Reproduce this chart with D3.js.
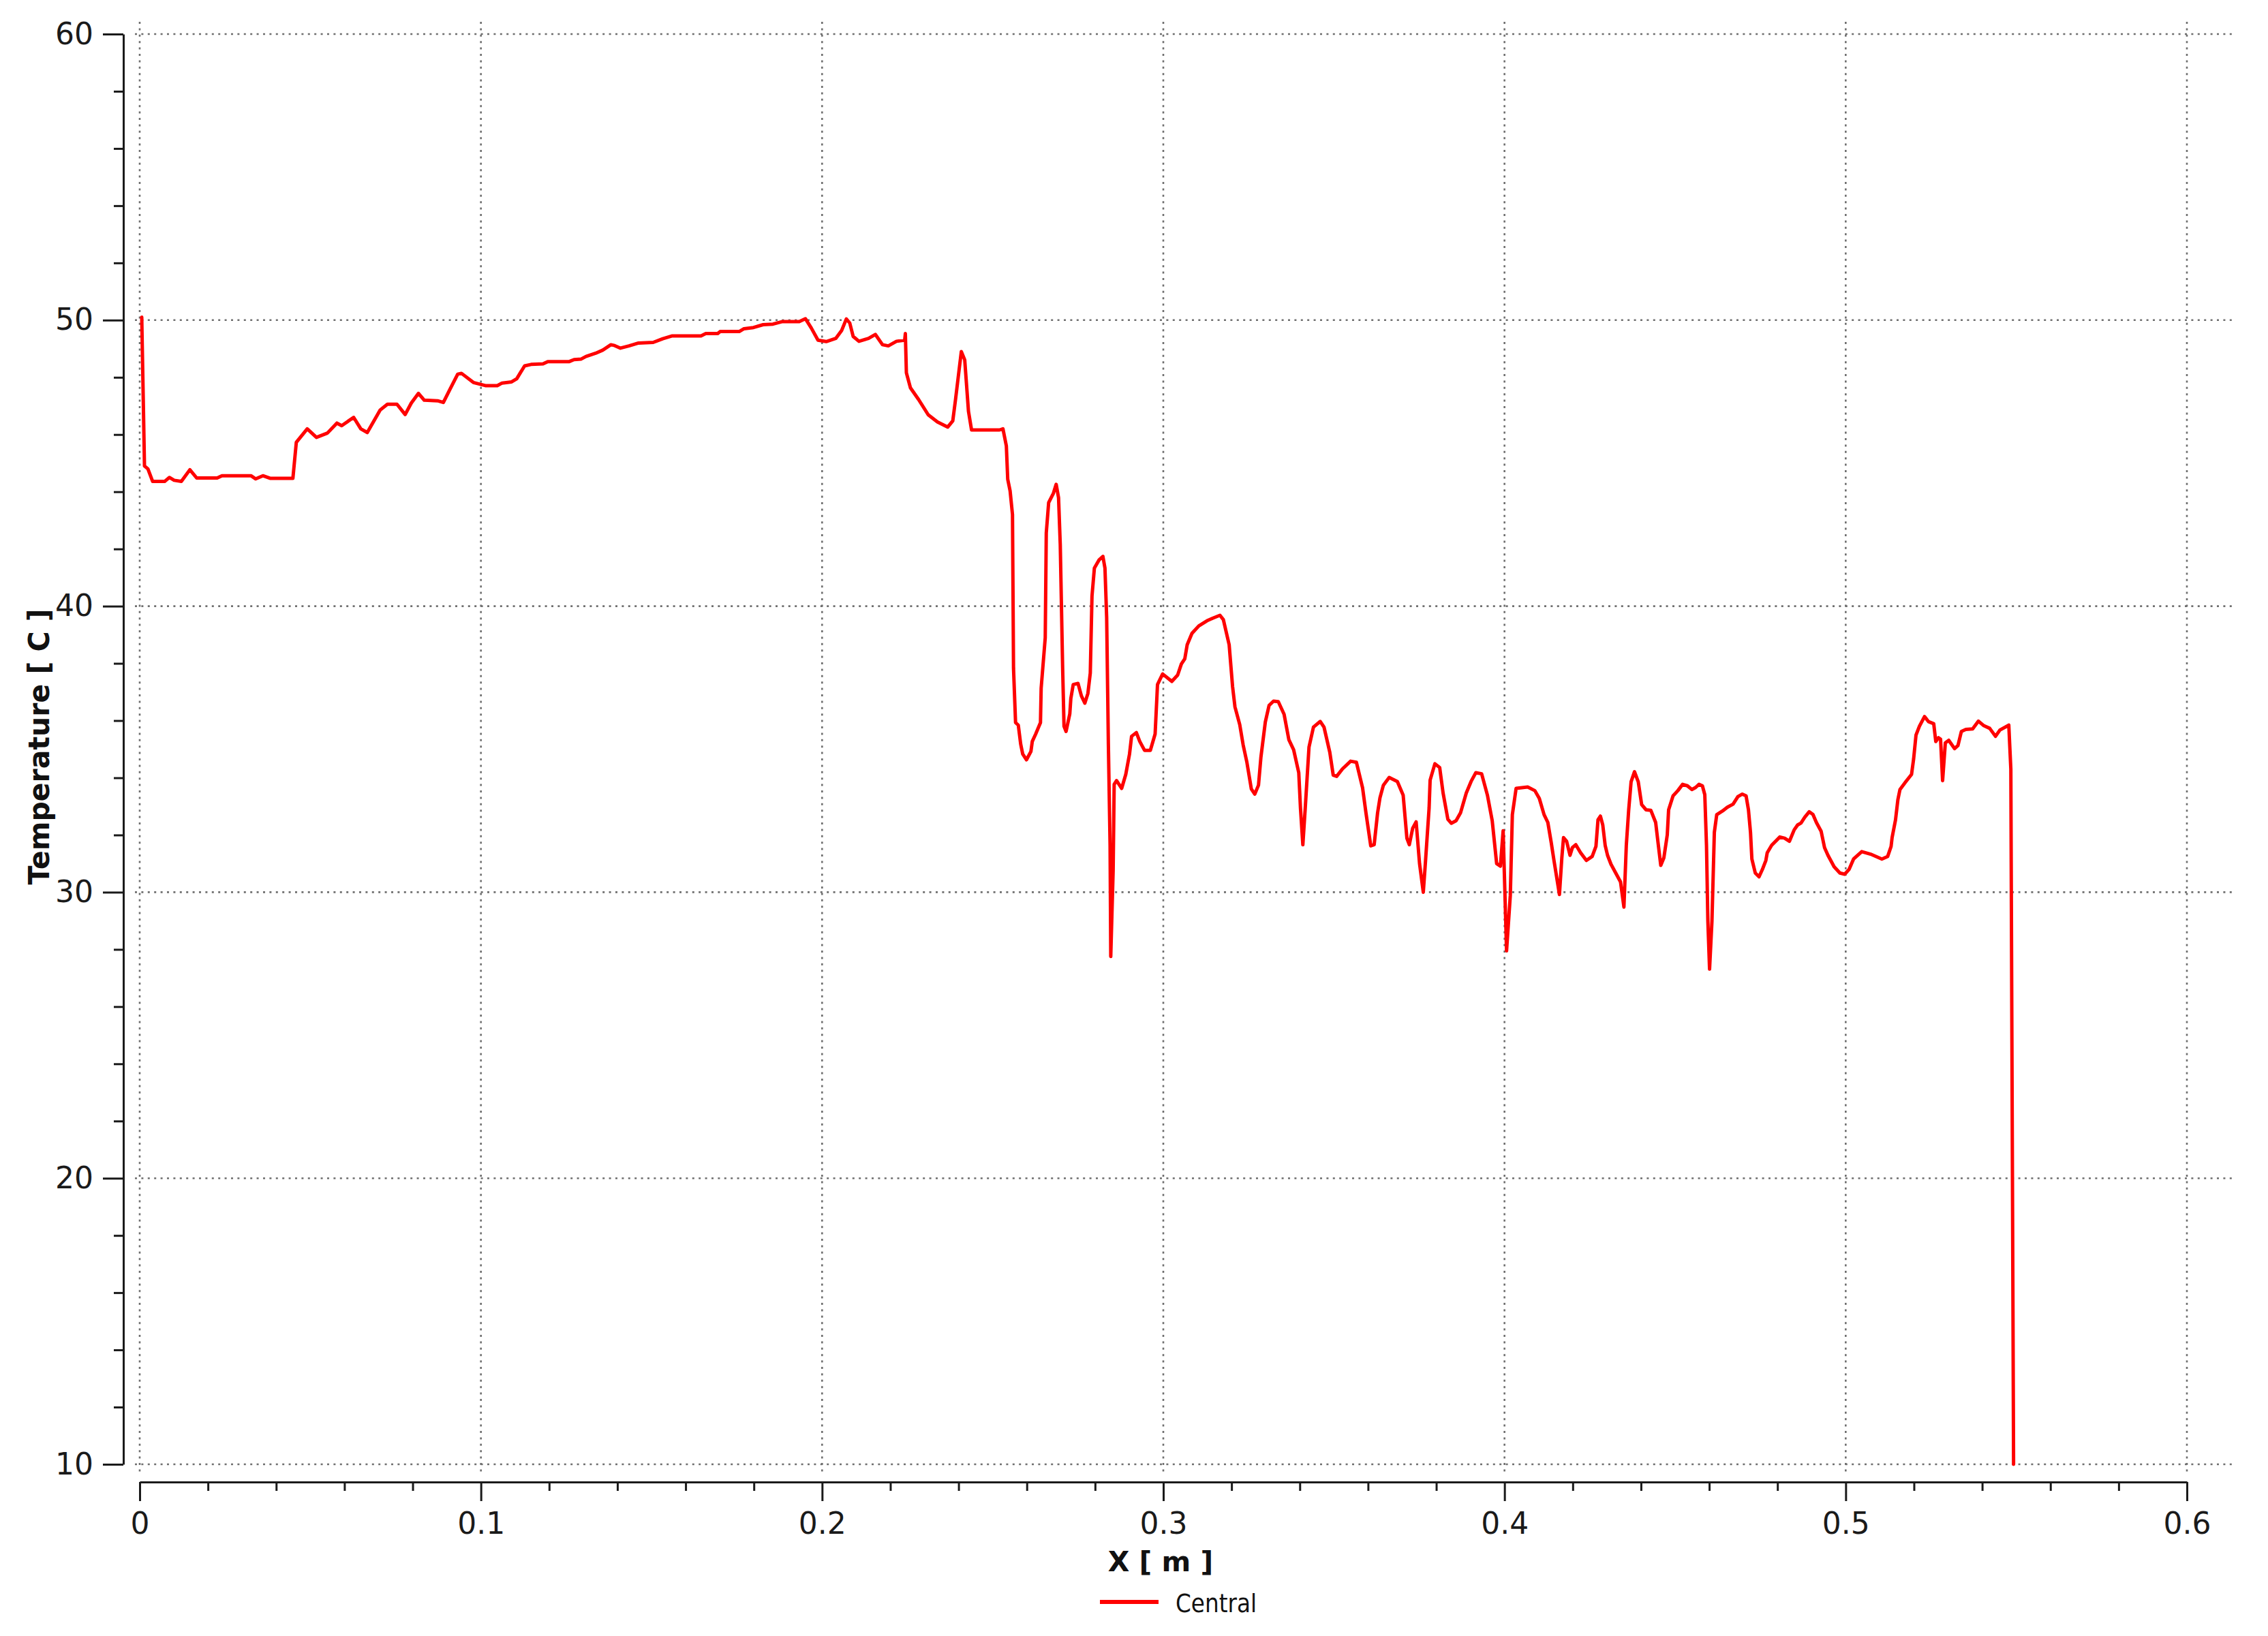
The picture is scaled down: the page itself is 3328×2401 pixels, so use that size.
<!DOCTYPE html>
<html>
<head>
<meta charset="utf-8">
<script src="https://cdnjs.cloudflare.com/ajax/libs/d3/7.8.5/d3.min.js"></script>
<style>
  body { margin: 0; background: #fff; }
  svg { display: block; }
  .tick text { font-family: "DejaVu Sans", Verdana, sans-serif; font-size: 44px; fill: #1a1a1a; }
</style>
</head>
<body>
<div id="chart"></div>
<script>
// position along the line [m]
var xValues = [
  0.0006, 0.0014, 0.0024, 0.0038, 0.0073, 0.0087, 0.0101, 0.0122, 0.0147, 0.0167,
  0.0227, 0.0241, 0.0326, 0.0340, 0.0361, 0.0382, 0.0449, 0.0459, 0.0491, 0.0518,
  0.0550, 0.0578, 0.0592, 0.0627, 0.0648, 0.0667, 0.0705, 0.0726, 0.0754, 0.0778,
  0.0796, 0.0817, 0.0834, 0.0873, 0.0890, 0.0908, 0.0932, 0.0943, 0.0978, 0.1013,
  0.1048, 0.1062, 0.1090, 0.1105, 0.1128, 0.1147, 0.1182, 0.1196, 0.1259, 0.1273,
  0.1294, 0.1308, 0.1336, 0.1357, 0.1381, 0.1392, 0.1409, 0.1434, 0.1462, 0.1505,
  0.1533, 0.1561, 0.1645, 0.1659, 0.1694, 0.1701, 0.1757, 0.1771, 0.1799, 0.1827,
  0.1856, 0.1884, 0.1933, 0.1951, 0.1968, 0.1988, 0.2012, 0.2040, 0.2057, 0.2071,
  0.2081, 0.2091, 0.2108, 0.2136, 0.2156, 0.2177, 0.2194, 0.2218, 0.2242, 0.2244,
  0.2247, 0.2259, 0.2283, 0.2311, 0.2338, 0.2368, 0.2383, 0.2391, 0.2408, 0.2418,
  0.2429, 0.2438, 0.2520, 0.2530, 0.2540, 0.2544, 0.2551, 0.2558, 0.2561, 0.2567,
  0.2575, 0.2582, 0.2588, 0.2599, 0.2612, 0.2616, 0.2626, 0.2640, 0.2642, 0.2654,
  0.2657, 0.2664, 0.2678, 0.2686, 0.2693, 0.2698, 0.2705, 0.2709, 0.2715, 0.2726,
  0.2729, 0.2736, 0.2750, 0.2760, 0.2770, 0.2779, 0.2786, 0.2791, 0.2798, 0.2812,
  0.2823, 0.2829, 0.2834, 0.2839, 0.2844, 0.2846, 0.2853, 0.2856, 0.2863, 0.2878,
  0.2890, 0.2901, 0.2907, 0.2921, 0.2931, 0.2945, 0.2962, 0.2976, 0.2983, 0.2998,
  0.3025, 0.3042, 0.3053, 0.3063, 0.3070, 0.3084, 0.3104, 0.3128, 0.3145, 0.3166,
  0.3176, 0.3193, 0.3203, 0.3210, 0.3224, 0.3234, 0.3245, 0.3258, 0.3268, 0.3279,
  0.3286, 0.3299, 0.3310, 0.3323, 0.3337, 0.3354, 0.3368, 0.3382, 0.3397, 0.3402,
  0.3409, 0.3416, 0.3427, 0.3440, 0.3460, 0.3471, 0.3488, 0.3498, 0.3508, 0.3525,
  0.3549, 0.3566, 0.3584, 0.3594, 0.3608, 0.3618, 0.3628, 0.3635, 0.3645, 0.3662,
  0.3686, 0.3703, 0.3714, 0.3721, 0.3731, 0.3741, 0.3751, 0.3762, 0.3768, 0.3779,
  0.3782, 0.3796, 0.3810, 0.3820, 0.3834, 0.3844, 0.3858, 0.3871, 0.3888, 0.3902,
  0.3916, 0.3933, 0.3950, 0.3964, 0.3977, 0.3988, 0.3996, 0.4006, 0.4017, 0.4023,
  0.4034, 0.4068, 0.4089, 0.4102, 0.4116, 0.4127, 0.4137, 0.4145, 0.4161, 0.4168,
  0.4173, 0.4182, 0.4192, 0.4199, 0.4209, 0.4223, 0.4240, 0.4257, 0.4268, 0.4274,
  0.4281, 0.4288, 0.4295, 0.4302, 0.4312, 0.4326, 0.4340, 0.4350, 0.4357, 0.4364,
  0.4371, 0.4381, 0.4392, 0.4402, 0.4415, 0.4429, 0.4443, 0.4450, 0.4458, 0.4467,
  0.4477, 0.4481, 0.4494, 0.4508, 0.4522, 0.4536, 0.4549, 0.4560, 0.4570, 0.4580,
  0.4587, 0.4592, 0.4596, 0.4601, 0.4608, 0.4615, 0.4622, 0.4639, 0.4653, 0.4670,
  0.4684, 0.4697, 0.4708, 0.4715, 0.4721, 0.4725, 0.4735, 0.4746, 0.4756, 0.4766,
  0.4770, 0.4783, 0.4807, 0.4821, 0.4835, 0.4849, 0.4859, 0.4869, 0.4880, 0.4893,
  0.4904, 0.4914, 0.4928, 0.4938, 0.4948, 0.4966, 0.4983, 0.4997, 0.5010, 0.5023,
  0.5047, 0.5073, 0.5106, 0.5123, 0.5133, 0.5136, 0.5146, 0.5153, 0.5159, 0.5176,
  0.5193, 0.5199, 0.5206, 0.5216, 0.5231, 0.5243, 0.5258, 0.5264, 0.5272, 0.5278,
  0.5284, 0.5292, 0.5302, 0.5319, 0.5329, 0.5339, 0.5352, 0.5372, 0.5389, 0.5405,
  0.5422, 0.5439, 0.5452, 0.5478, 0.5484, 0.5492
];

// temperature [C]
var tempValues = [
  50.10, 44.90, 44.80, 44.36, 44.36, 44.50, 44.40, 44.36, 44.77, 44.48,
  44.48, 44.56, 44.56, 44.45, 44.56, 44.47, 44.47, 45.73, 46.20, 45.90,
  46.05, 46.40, 46.31, 46.60, 46.20, 46.07, 46.86, 47.06, 47.06, 46.70,
  47.10, 47.44, 47.20, 47.18, 47.12, 47.55, 48.11, 48.14, 47.82, 47.71,
  47.71, 47.80, 47.84, 47.95, 48.40, 48.45, 48.47, 48.55, 48.55, 48.62,
  48.64, 48.73, 48.84, 48.95, 49.14, 49.11, 49.02, 49.10, 49.20, 49.22,
  49.35, 49.45, 49.45, 49.53, 49.53, 49.60, 49.60, 49.70, 49.74, 49.84,
  49.86, 49.95, 49.95, 50.05, 49.73, 49.30, 49.25, 49.36, 49.63, 50.04,
  49.90, 49.43, 49.26, 49.36, 49.50, 49.14, 49.10, 49.26, 49.30, 49.53,
  48.16, 47.63, 47.22, 46.69, 46.44, 46.26, 46.48, 47.22, 48.90, 48.61,
  46.81, 46.16, 46.16, 46.20, 45.60, 44.44, 44.03, 43.20, 37.83, 35.93,
  35.84, 35.18, 34.83, 34.63, 34.92, 35.27, 35.53, 35.93, 37.13, 38.90,
  42.56, 43.62, 43.95, 44.26, 43.79, 42.15, 37.83, 35.80, 35.62, 36.24,
  36.77, 37.26, 37.30, 36.86, 36.61, 36.95, 37.66, 40.35, 41.33, 41.62,
  41.74, 41.33, 39.60, 35.18, 31.64, 27.75, 30.76, 33.77, 33.90, 33.63,
  34.12, 34.83, 35.45, 35.58, 35.27, 34.96, 34.96, 35.53, 37.26, 37.63,
  37.37, 37.59, 37.98, 38.16, 38.65, 39.05, 39.31, 39.49, 39.58, 39.68,
  39.53, 38.65, 37.19, 36.48, 35.86, 35.15, 34.54, 33.61, 33.43, 33.74,
  34.71, 35.95, 36.53, 36.68, 36.66, 36.22, 35.33, 34.98, 34.18, 32.94,
  31.66, 32.94, 35.07, 35.77, 35.97, 35.77, 34.89, 34.09, 34.05, 34.31,
  34.58, 34.54, 33.65, 32.77, 31.62, 31.66, 32.77, 33.30, 33.74, 34.01,
  33.87, 33.39, 31.88, 31.66, 32.24, 32.46, 31.00, 30.00, 31.00, 32.94,
  33.92, 34.49, 34.36, 33.47, 32.55, 32.41, 32.50, 32.77, 33.47, 33.87,
  34.18, 34.14, 33.39, 32.50, 31.00, 30.91, 32.15, 27.95, 29.88, 32.71,
  33.63, 33.68, 33.55, 33.28, 32.71, 32.44, 31.73, 31.11, 29.92, 31.20,
  31.91, 31.78, 31.29, 31.56, 31.66, 31.38, 31.11, 31.25, 31.60, 32.53,
  32.66, 32.35, 31.64, 31.29, 30.98, 30.67, 30.36, 29.48, 31.64, 32.88,
  33.86, 34.21, 33.86, 33.06, 32.88, 32.86, 32.44, 31.73, 30.94, 31.20,
  32.00, 32.88, 33.37, 33.55, 33.77, 33.72, 33.59, 33.66, 33.77, 33.72,
  33.41, 31.64, 28.99, 27.31, 28.99, 32.09, 32.71, 32.84, 32.97, 33.08,
  33.34, 33.43, 33.37, 32.88, 32.09, 31.16, 30.67, 30.54, 30.80, 31.11,
  31.38, 31.64, 31.93, 31.89, 31.78, 32.18, 32.35, 32.42, 32.62, 32.81,
  32.72, 32.44, 32.13, 31.56, 31.29, 30.89, 30.67, 30.63, 30.80, 31.16,
  31.42, 31.33, 31.16, 31.25, 31.60, 31.91, 32.53, 33.24, 33.59, 33.86,
  34.12, 34.65, 35.49, 35.80, 36.14, 35.96, 35.89, 35.27, 35.40, 35.35,
  33.90, 35.22, 35.31, 35.02, 35.13, 35.62, 35.69, 35.71, 35.98, 35.82,
  35.73, 35.45, 35.67, 35.84, 34.30, 10.00
];

var xTicks = [0, 0.1, 0.2, 0.3, 0.4, 0.5, 0.6];
var xTickLabels = ["0", "0.1", "0.2", "0.3", "0.4", "0.5", "0.6"];
var yTicks = [10, 20, 30, 40, 50, 60];
var yTickLabels = ["10", "20", "30", "40", "50", "60"];
var seriesName = "Central";

var width = 3328,
    height = 2401;

var x = d3.scaleLinear().domain([0, 0.6]).range([205, 3209]);
var y = d3.scaleLinear().domain([10, 60]).range([2149, 50]);

var svg = d3.select("#chart").append("svg")
    .attr("width", width)
    .attr("height", height);

// dotted grid, runs a bit past the plot on every side
var grid = svg.append("g")
    .attr("stroke", "#6e6e6e")
    .attr("stroke-width", 2.6)
    .attr("stroke-dasharray", "3,6.4");

grid.selectAll("line.h")
    .data(yTicks)
    .enter().append("line")
    .attr("class", "h")
    .attr("x1", 198).attr("x2", 3278)
    .attr("y1", function(d) { return y(d); })
    .attr("y2", function(d) { return y(d); });

grid.selectAll("line.v")
    .data(xTicks)
    .enter().append("line")
    .attr("class", "v")
    .attr("y1", 32).attr("y2", 2160)
    .attr("x1", function(d) { return x(d); })
    .attr("x2", function(d) { return x(d); });

// y axis: major + minor ticks
var yMinor = d3.range(12, 60, 2).filter(function(d) { return d % 10 !== 0; });

var yAxisMinor = svg.append("g")
    .attr("transform", "translate(181,0)")
    .call(d3.axisLeft(y).tickValues(yMinor).tickSize(14).tickFormat(""));
yAxisMinor.select(".domain").remove();

var yAxis = svg.append("g")
    .attr("transform", "translate(181,0)")
    .call(d3.axisLeft(y)
        .tickValues(yTicks)
        .tickSize(30)
        .tickSizeOuter(0)
        .tickPadding(14)
        .tickFormat(function(d, i) { return yTickLabels[i]; }));

// x axis: major + minor ticks
var xMinor = d3.range(0.02, 0.6, 0.02).filter(function(d) {
  return Math.abs(d * 10 - Math.round(d * 10)) > 1e-6;
});

var xAxisMinor = svg.append("g")
    .attr("transform", "translate(0,2175)")
    .call(d3.axisBottom(x).tickValues(xMinor).tickSize(13).tickFormat(""));
xAxisMinor.select(".domain").remove();

var xAxis = svg.append("g")
    .attr("transform", "translate(0,2175)")
    .call(d3.axisBottom(x)
        .tickValues(xTicks)
        .tickSize(28)
        .tickSizeOuter(0)
        .tickPadding(17)
        .tickFormat(function(d, i) { return xTickLabels[i]; }));

svg.selectAll(".domain, .tick line")
    .attr("stroke", "#1a1a1a")
    .attr("stroke-width", 3);

// the data line
var line = d3.line()
    .x(function(d) { return x(d[0]); })
    .y(function(d) { return y(d[1]); });

var points = xValues.map(function(v, i) { return [v, tempValues[i]]; });

svg.append("path")
    .datum(points)
    .attr("d", line)
    .attr("fill", "none")
    .attr("stroke", "#ff0000")
    .attr("stroke-width", 5)
    .attr("stroke-linejoin", "round")
    .attr("stroke-linecap", "round");

// axis titles
svg.append("text")
    .attr("x", 1703)
    .attr("y", 2306)
    .attr("text-anchor", "middle")
    .style("font-family", "'DejaVu Sans', Verdana, sans-serif")
    .style("font-size", "41px")
    .style("font-weight", "bold")
    .style("fill", "#111")
    .text("X [ m ]");

svg.append("text")
    .attr("transform", "translate(72,1096) rotate(-90)")
    .attr("text-anchor", "middle")
    .attr("textLength", 405)
    .attr("lengthAdjust", "spacingAndGlyphs")
    .style("font-family", "'DejaVu Sans', Verdana, sans-serif")
    .style("font-size", "43px")
    .style("font-weight", "bold")
    .style("fill", "#111")
    .text("Temperature [ C ]");

// legend
var legend = svg.append("g");

legend.append("line")
    .attr("x1", 1614).attr("x2", 1700)
    .attr("y1", 2351).attr("y2", 2351)
    .attr("stroke", "#ff0000")
    .attr("stroke-width", 6);

legend.append("text")
    .attr("x", 1725)
    .attr("y", 2366)
    .attr("textLength", 119)
    .attr("lengthAdjust", "spacingAndGlyphs")
    .style("font-family", "'DejaVu Sans', Verdana, sans-serif")
    .style("font-size", "38px")
    .style("fill", "#111")
    .text(seriesName);
</script>
</body>
</html>
